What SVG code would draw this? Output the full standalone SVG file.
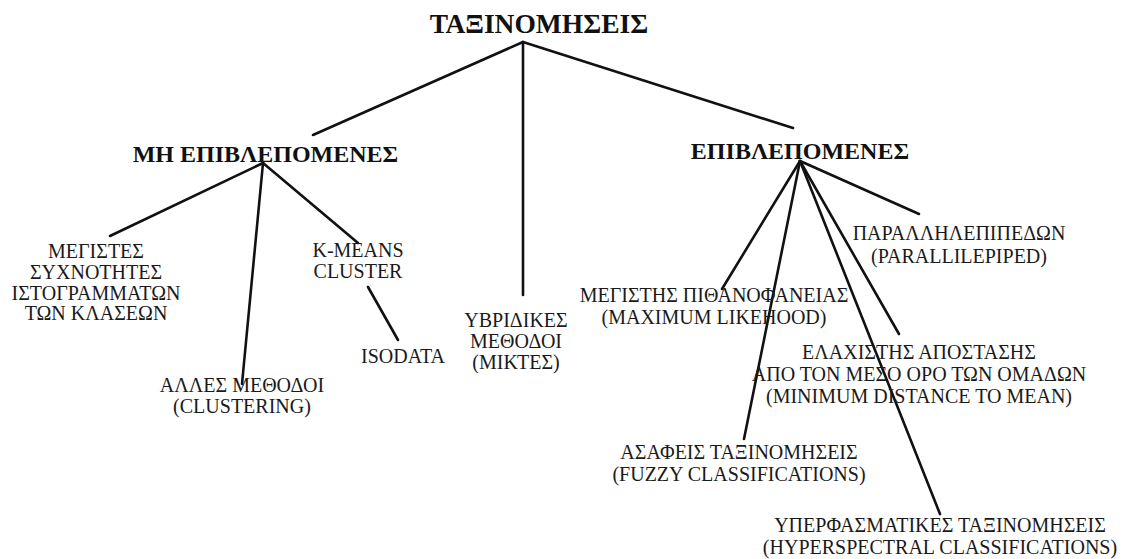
<svg xmlns="http://www.w3.org/2000/svg" width="1124" height="559" viewBox="0 0 1124 559">
<style>
.t{font-family:"Liberation Serif","Times New Roman",serif;font-size:20px;fill:#1a1a1a;text-anchor:middle}
.b{font-family:"Liberation Serif","Times New Roman",serif;font-weight:bold;fill:#111;text-anchor:middle}
.e{stroke:#111;stroke-width:2.6;fill:none;stroke-linecap:round}
</style>
<rect width="1124" height="559" fill="#fff"/>
<g id="connectors">
<line class="e" x1="523" y1="42" x2="313" y2="135"/>
<line class="e" x1="523" y1="42" x2="523" y2="295"/>
<line class="e" x1="523" y1="42" x2="793" y2="128"/>
<line class="e" x1="263" y1="163" x2="110" y2="236"/>
<line class="e" x1="263" y1="163" x2="242" y2="384"/>
<line class="e" x1="263" y1="163" x2="358" y2="243"/>
<line class="e" x1="368" y1="287" x2="398" y2="340"/>
<line class="e" x1="800" y1="161" x2="722" y2="289"/>
<line class="e" x1="800" y1="161" x2="744" y2="439"/>
<line class="e" x1="800" y1="161" x2="940" y2="514"/>
<line class="e" x1="800" y1="161" x2="899" y2="334"/>
<line class="e" x1="800" y1="161" x2="919" y2="214"/>
</g>
<g id="root"><text class="b" x="539" y="33" font-size="27.5">ΤΑΞΙΝΟΜΗΣΕΙΣ</text></g>
<g id="unsupervised"><text class="b" x="265.5" y="162" font-size="24">ΜΗ ΕΠΙΒΛΕΠΟΜΕΝΕΣ</text></g>
<g id="supervised"><text class="b" x="800" y="159" font-size="24">ΕΠΙΒΛΕΠΟΜΕΝΕΣ</text></g>
<g id="histogram"><text class="t" x="96" y="258">ΜΕΓΙΣΤΕΣ</text><text class="t" x="96" y="279">ΣΥΧΝΟΤΗΤΕΣ</text><text class="t" x="96" y="300">ΙΣΤΟΓΡΑΜΜΑΤΩΝ</text><text class="t" x="96" y="320">ΤΩΝ ΚΛΑΣΕΩΝ</text></g>
<g id="kmeans"><text class="t" x="358" y="257">K-MEANS</text><text class="t" x="358" y="278">CLUSTER</text></g>
<g id="isodata"><text class="t" x="403" y="363">ISODATA</text></g>
<g id="other"><text class="t" x="242" y="392">ΑΛΛΕΣ ΜΕΘΟΔΟΙ</text><text class="t" x="242" y="413">(CLUSTERING)</text></g>
<g id="hybrid"><text class="t" x="516" y="327">ΥΒΡΙΔΙΚΕΣ</text><text class="t" x="516" y="348">ΜΕΘΟΔΟΙ</text><text class="t" x="516" y="369">(ΜΙΚΤΕΣ)</text></g>
<g id="maxlike"><text class="t" x="714" y="302">ΜΕΓΙΣΤΗΣ ΠΙΘΑΝΟΦΑΝΕΙΑΣ</text><text class="t" x="714" y="324">(MAXIMUM LIKEHOOD)</text></g>
<g id="parallelepiped"><text class="t" x="959" y="240">ΠΑΡΑΛΛΗΛΕΠΙΠΕΔΩΝ</text><text class="t" x="959" y="263">(PARALLILEPIPED)</text></g>
<g id="mindist"><text class="t" x="919" y="359">ΕΛΑΧΙΣΤΗΣ ΑΠΟΣΤΑΣΗΣ</text><text class="t" x="919" y="381">ΑΠΟ ΤΟΝ ΜΕΣΟ ΟΡΟ ΤΩΝ ΟΜΑΔΩΝ</text><text class="t" x="919" y="403">(MINIMUM DISTANCE TO MEAN)</text></g>
<g id="fuzzy"><text class="t" x="739" y="459">ΑΣΑΦΕΙΣ ΤΑΞΙΝΟΜΗΣΕΙΣ</text><text class="t" x="739" y="481">(FUZZY CLASSIFICATIONS)</text></g>
<g id="hyperspectral"><text class="t" x="940" y="532">ΥΠΕΡΦΑΣΜΑΤΙΚΕΣ ΤΑΞΙΝΟΜΗΣΕΙΣ</text><text class="t" x="940" y="554">(HYPERSPECTRAL CLASSIFICATIONS)</text></g>
</svg>
